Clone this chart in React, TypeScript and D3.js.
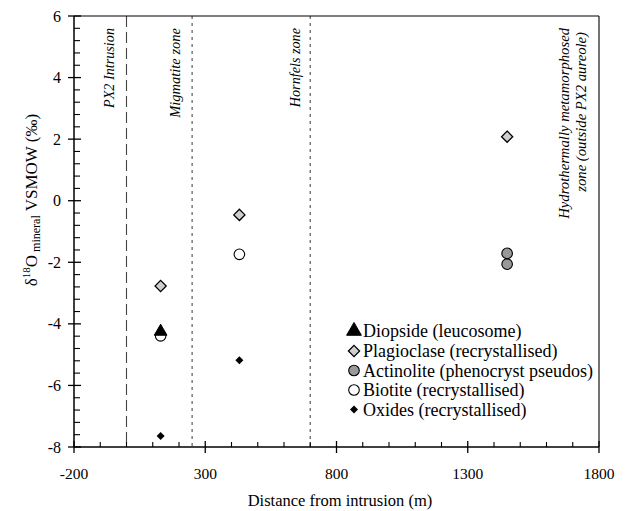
import React from "react";
import * as d3 from "d3";

const xTicks = [-200, 300, 800, 1300, 1800];
const yTicks = [-8, -6, -4, -2, 0, 2, 4, 6];

const diopside = [{ x: 130, y: -4.25 }];
const plagioclase = [
  { x: 130, y: -2.77 },
  { x: 430, y: -0.46 },
  { x: 1450, y: 2.08 },
];
const actinolite = [
  { x: 1450, y: -1.71 },
  { x: 1450, y: -2.06 },
];
const biotite = [
  { x: 130, y: -4.39 },
  { x: 430, y: -1.74 },
];
const oxides = [
  { x: 130, y: -7.64 },
  { x: 430, y: -5.18 },
];

const zoneLines = [
  { x: 0, dash: "11,5" },
  { x: 250, dash: "3,4" },
  { x: 700, dash: "3,4" },
];

const legendItems = [
  "Diopside (leucosome)",
  "Plagioclase (recrystallised)",
  "Actinolite (phenocryst pseudos)",
  "Biotite (recrystallised)",
  "Oxides (recrystallised)",
];

const FONT = "Liberation Serif, serif";
const T: React.CSSProperties = { fontFamily: FONT };

function Marker({ kind, x, y, big }: { kind: string; x: number; y: number; big?: boolean }) {
  if (kind === "tri") {
    const p = d3.symbol(d3.symbolTriangle, big ? 95 : 70)();
    return <path d={p!} transform={`translate(${x},${y})`} fill="#000" stroke="#000" strokeWidth={1} />;
  }
  if (kind === "diamond") {
    const s = 5.6;
    return (
      <path
        d={`M0,${-s}L${s},0L0,${s}L${-s},0Z`}
        transform={`translate(${x},${y})`}
        fill="#cfcfcf"
        stroke="#000"
        strokeWidth={1.3}
      />
    );
  }
  if (kind === "gray") {
    return <circle cx={x} cy={y} r={5.3} fill="#999" stroke="#000" strokeWidth={1.1} />;
  }
  if (kind === "white") {
    return <circle cx={x} cy={y} r={5.3} fill="#fff" stroke="#000" strokeWidth={1.1} />;
  }
  const s = 4;
  return <path d={`M0,${-s}L${s},0L0,${s}L${-s},0Z`} transform={`translate(${x},${y})`} fill="#000" />;
}

export default function App() {
  const W = 625;
  const H = 511;
  const x = d3.scaleLinear().domain([-200, 1800]).range([74, 599]);
  const y = d3.scaleLinear().domain([-8, 6]).range([447, 16]);

  const xMinor = d3.range(-200, 1801, 100).filter((v) => !xTicks.includes(v));
  const yMinor = d3
    .range(-8, 6.001, 0.4)
    .map((v) => +v.toFixed(2))
    .filter((v) => !yTicks.some((t) => Math.abs(t - v) < 1e-6));

  const legendY = [331, 351, 370.5, 390, 409.5];
  const legendKinds = ["tri", "diamond", "gray", "white", "ox"];

  return (
    <svg width={W} height={H} style={{ position: "absolute", left: 0, top: 0, background: "#fff", fontFamily: FONT }}>
      {zoneLines.map((z, i) => (
        <line
          key={i}
          x1={x(z.x)}
          x2={x(z.x)}
          y1={y(6)}
          y2={y(-8)}
          stroke={i === 0 ? "#444" : "#666"}
          strokeWidth={i === 0 ? 1.1 : 1.3}
          strokeDasharray={z.dash}
        />
      ))}
      <text style={T} transform={`translate(114,28) rotate(-90)`} textAnchor="end" fontSize={14.2} fontStyle="italic">PX2 Intrusion</text>
      <text style={T} transform={`translate(180,28) rotate(-90)`} textAnchor="end" fontSize={14.5} fontStyle="italic">Migmatite zone</text>
      <text style={T} transform={`translate(300,28) rotate(-90)`} textAnchor="end" fontSize={14.2} fontStyle="italic">Hornfels zone</text>
      <text style={T} transform={`translate(569,28) rotate(-90)`} textAnchor="end" fontSize={14.7} fontStyle="italic">Hydrothermally metamorphosed</text>
      <text style={T} transform={`translate(586,32) rotate(-90)`} textAnchor="end" fontSize={14.7} fontStyle="italic">zone (outside PX2 aureole)</text>

      <line x1={74} x2={599} y1={16} y2={16} stroke="#000" strokeWidth={1.1} />
      <line x1={599} x2={599} y1={16} y2={447} stroke="#000" strokeWidth={1.1} />
      <line x1={74} x2={599} y1={447} y2={447} stroke="#000" strokeWidth={1.5} />
      <line x1={74} x2={74} y1={16} y2={447} stroke="#000" strokeWidth={1.5} />

      {yTicks.map((t) => (
        <g key={t}>
          <line x1={68} x2={81} y1={y(t)} y2={y(t)} stroke="#000" strokeWidth={1.3} />
          <text style={T} x={61} y={y(t) + 5.5} textAnchor="end" fontSize={16}>{t}</text>
        </g>
      ))}
      {yMinor.map((t) => (
        <line key={t} x1={74} x2={80} y1={y(t)} y2={y(t)} stroke="#000" strokeWidth={1.1} />
      ))}
      {xTicks.map((t) => (
        <g key={t}>
          <line x1={x(t)} x2={x(t)} y1={441} y2={453} stroke="#000" strokeWidth={1.3} />
          <text style={T} x={x(t)} y={479} textAnchor="middle" fontSize={15.5}>{t}</text>
        </g>
      ))}
      {xMinor.map((t) => (
        <line key={t} x1={x(t)} x2={x(t)} y1={442} y2={447} stroke="#000" strokeWidth={1.1} />
      ))}

      <text style={T} x={340} y={506} textAnchor="middle" fontSize={16.5}>Distance from intrusion (m)</text>
      <text style={T} transform="translate(37,200) rotate(-90)" textAnchor="middle" fontSize={17}>
        δ<tspan fontSize={11} dy={-7}>18</tspan>
        <tspan dy={7}>O</tspan>
        <tspan fontSize={12} dy={3}> mineral</tspan>
        <tspan dy={-3}> VSMOW (‰)</tspan>
      </text>

      {plagioclase.map((d, i) => <Marker key={"p" + i} kind="diamond" x={x(d.x)} y={y(d.y)} />)}
      {actinolite.map((d, i) => <Marker key={"a" + i} kind="gray" x={x(d.x)} y={y(d.y)} />)}
      {biotite.map((d, i) => <Marker key={"b" + i} kind="white" x={x(d.x)} y={y(d.y)} />)}
      {oxides.map((d, i) => <Marker key={"o" + i} kind="ox" x={x(d.x)} y={y(d.y)} />)}
      {diopside.map((d, i) => <Marker key={"d" + i} kind="tri" x={x(d.x)} y={y(d.y)} />)}

      {legendItems.map((lab, i) => (
        <g key={lab}>
          <Marker kind={legendKinds[i]} x={354} y={legendY[i]} big />
          <text style={T} x={363} y={legendY[i] + 6} fontSize={18}>{lab}</text>
        </g>
      ))}
    </svg>
  );
}
